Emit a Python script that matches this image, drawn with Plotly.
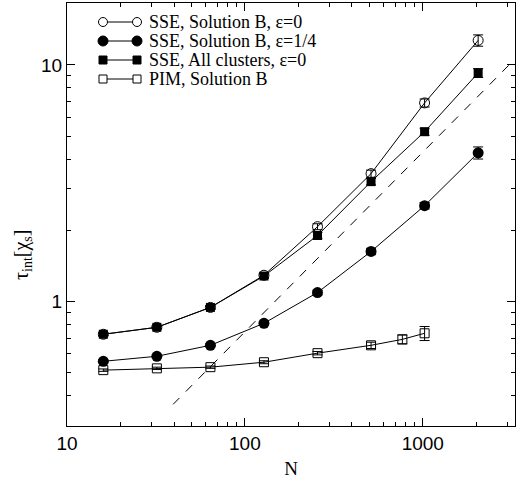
import plotly.graph_objects as go

N = [16, 32, 64, 128, 256, 512, 1024, 2048]
sse_b_eps0 = [0.726, 0.777, 0.943, 1.29, 2.07, 3.47, 6.91, 12.7]
sse_b_eps0_err = [0.01, 0.01, 0.015, 0.03, 0.06, 0.12, 0.27, 0.7]
sse_b_eps14 = [0.558, 0.586, 0.652, 0.808, 1.09, 1.626, 2.54, 4.25]
sse_b_eps14_err = [0.008, 0.008, 0.01, 0.015, 0.025, 0.05, 0.08, 0.25]
sse_all_eps0 = [0.726, 0.777, 0.943, 1.28, 1.90, 3.21, 5.22, 9.25]
sse_all_eps0_err = [0.01, 0.01, 0.015, 0.03, 0.06, 0.1, 0.18, 0.4]
N_pim = [16, 32, 64, 128, 256, 512, 768, 1024]
pim_b = [0.512, 0.521, 0.527, 0.553, 0.604, 0.652, 0.691, 0.733]
pim_b_err = [0.006, 0.006, 0.006, 0.008, 0.01, 0.02, 0.03, 0.05]
dash_N = [39.5, 3300]
dash_tau = [0.367, 10.6]

legend_labels = ["SSE, Solution B, ε=0", "SSE, Solution B, ε=1/4",
                 "SSE, All clusters, ε=0", "PIM, Solution B"]
x_title = "N"
y_title = "τ<sub>int</sub>[χ<sub>s</sub>]"

fig = go.Figure()

def err(vals):
    return dict(type="data", array=vals, visible=True, color="black", thickness=1, width=5)

fig.add_trace(go.Scatter(x=dash_N, y=dash_tau, mode="lines",
                         line=dict(color="black", width=1, dash="dash"), showlegend=False))
fig.add_trace(go.Scatter(x=N, y=sse_b_eps0, mode="lines+markers", error_y=err(sse_b_eps0_err),
                         line=dict(color="black", width=1),
                         marker=dict(symbol="circle-open", size=10, color="black", line=dict(width=1)),
                         showlegend=False))
fig.add_trace(go.Scatter(x=N, y=sse_b_eps14, mode="lines+markers", error_y=err(sse_b_eps14_err),
                         line=dict(color="black", width=1),
                         marker=dict(symbol="circle", size=11, color="black"),
                         showlegend=False))
fig.add_trace(go.Scatter(x=N, y=sse_all_eps0, mode="lines+markers", error_y=err(sse_all_eps0_err),
                         line=dict(color="black", width=1),
                         marker=dict(symbol="square", size=9, color="black"),
                         showlegend=False))
fig.add_trace(go.Scatter(x=N_pim, y=pim_b, mode="lines+markers", error_y=err(pim_b_err),
                         line=dict(color="black", width=1),
                         marker=dict(symbol="square-open", size=9, color="black", line=dict(width=1)),
                         showlegend=False))

# manual legend (paper coords)
W, H = 517, 483
ml, mr, mt, mb = 67, 2, 3, 57
pw, ph = W - ml - mr, H - mt - mb
def px(x):
    return (x - ml) / pw
def py(y):
    return 1 - (y - mt) / ph

rows_y = [22, 41, 60, 79]
styles = [("circle", False), ("circle", True), ("square", True), ("square", False)]
x0, x1 = 103, 137
for (shape, filled), ly, lab in zip(styles, rows_y, legend_labels):
    fig.add_shape(type="line", xref="paper", yref="paper", x0=px(x0), x1=px(x1), y0=py(ly), y1=py(ly),
                  line=dict(color="black", width=1))
    r = 5 if shape == "circle" else 4
    if shape == "circle" and not filled:
        r = 4.5
    for cx in (x0, x1):
        fig.add_shape(type="circle" if shape == "circle" else "rect", xref="paper", yref="paper",
                      x0=px(cx - r), x1=px(cx + r), y0=py(ly - r), y1=py(ly + r),
                      line=dict(color="black", width=1),
                      fillcolor="black" if filled else "white")
    fig.add_annotation(xref="paper", yref="paper", x=px(147), y=py(ly), text=lab, showarrow=False,
                       xanchor="left", yanchor="middle",
                       font=dict(family="Liberation Serif", size=18, color="black"))

fig.add_annotation(xref="paper", yref="paper", x=px(22), y=py(255), text=y_title, showarrow=False,
                   textangle=-90, xanchor="center", yanchor="middle",
                   font=dict(family="Liberation Serif", size=20, color="black"))

axis_common = dict(type="log", showline=True, linecolor="black", linewidth=1, mirror="allticks",
                   ticks="inside", ticklen=8, tickcolor="black", showgrid=False, zeroline=False,
                   tickfont=dict(family="Liberation Sans", size=19, color="black"))

fig.update_xaxes(**axis_common, range=[1, 3.5185], tickvals=[10, 100, 1000], ticktext=["10", "100", "1000"],
                 minor=dict(ticks="inside", ticklen=4, tickcolor="black",
                            tickvals=[20, 30, 40, 50, 60, 70, 80, 90, 200, 300, 400, 500, 600, 700, 800, 900, 2000, 3000]),
                 title=dict(text=x_title, font=dict(family="Liberation Serif", size=19, color="black"), standoff=8))
fig.update_yaxes(**axis_common, range=[-0.527, 1.262], tickvals=[1, 10], ticktext=["1", "10"],
                 minor=dict(ticks="inside", ticklen=4, tickcolor="black",
                            tickvals=[0.3, 0.4, 0.5, 0.6, 0.7, 0.8, 0.9, 2, 3, 4, 5, 6, 7, 8, 9]))

fig.update_layout(width=W, height=H, margin=dict(l=ml, r=mr, t=mt, b=mb),
                  plot_bgcolor="white", paper_bgcolor="white", showlegend=False)

fig.write_html("out.html")
